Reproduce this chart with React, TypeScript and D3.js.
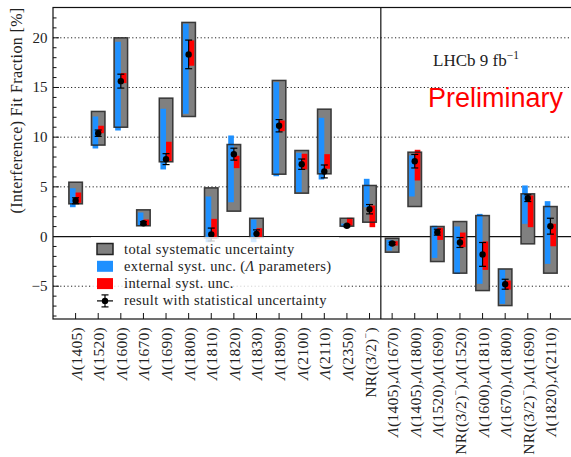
import React from 'react';
import * as d3 from 'd3';

const labels = [
  'Λ(1405)', 'Λ(1520)', 'Λ(1600)', 'Λ(1670)', 'Λ(1690)', 'Λ(1800)', 'Λ(1810)',
  'Λ(1820)', 'Λ(1830)', 'Λ(1890)', 'Λ(2100)', 'Λ(2110)', 'Λ(2350)', 'NR((3/2)⁻)',
  'Λ(1405),Λ(1670)', 'Λ(1405),Λ(1800)', 'Λ(1520),Λ(1690)', 'NR((3/2)⁻),Λ(1520)',
  'Λ(1600),Λ(1810)', 'Λ(1670),Λ(1800)', 'NR((3/2)⁻),Λ(1690)', 'Λ(1820),Λ(2110)',
];
const central = [3.6, 10.4, 15.64, 1.34, 7.79, 18.33, 0.2, 8.29, 0.27, 11.15, 7.28, 6.55, 1.08, 2.75,
  -0.7, 7.58, 0.44, -0.6, -1.8, -4.8, 3.86, 1.04];
const statErr = [0.3, 0.32, 0.7, 0.15, 0.55, 1.44, 0.65, 0.6, 0.4, 0.62, 0.52, 0.65, 0.1, 0.47,
  0.12, 0.68, 0.3, 0.5, 1.2, 0.5, 0.34, 0.8];
const totLow = [3.29, 9.2, 11.0, 1.08, 7.52, 12.08, -0.13, 2.55, -0.1, 6.27, 4.36, 6.31, 1.04, 1.44,
  -1.58, 3.02, -2.52, -3.69, -5.44, -6.95, -0.74, -3.69];
const totHigh = [5.47, 12.59, 20.0, 2.69, 13.93, 21.55, 4.9, 9.26, 1.84, 15.71, 8.66, 12.82, 1.84, 5.14,
  -0.17, 8.49, 1.01, 1.51, 2.11, -3.26, 4.3, 3.02];
const extLow = [2.95, 8.86, 10.67, 1.08, 6.75, 12.35, -0.57, 3.45, -0.57, 6.07, 4.46, 5.74, 0.95, 2.95,
  -1.41, 4.03, -2.15, -3.76, -4.76, -6.78, 1.28, -2.75];
const extHigh = [4.86, 12.08, 19.6, 2.42, 12.86, 21.42, 4.03, 10.17, 1.71, 15.54, 8.43, 11.95, 1.3, 5.81,
  -0.34, 8.16, 1.08, 1.01, 2.28, -3.32, 5.14, 3.56];
const intLow = [3.39, 10.4, 15.44, 1.08, 7.58, 17.19, -0.23, 6.88, -0.13, 10.6, 6.75, 6.82, 1.08, 0.94,
  -0.91, 5.64, -0.34, -1.07, -3.36, -5.34, 0.94, -0.98];
const intHigh = [4.43, 11.15, 16.45, 1.71, 9.54, 19.74, 1.78, 8.13, 0.84, 11.68, 8.33, 8.29, 1.88, 3.12,
  -0.47, 8.73, 0.88, 0.4, -0.5, -4.43, 4.13, 1.28];

const yMajor = [-5, 0, 5, 10, 15, 20];
const yMinor = d3.range(-8, 23);
const gridVals = [-5, 5, 10, 15, 20];
const legendItems = [
  'total systematic uncertainty',
  'external syst. unc. (Λ parameters)',
  'internal syst. unc.',
  'result with statistical uncertainty',
];
const nSingle = 14;

const SERIF = '"Liberation Serif", "DejaVu Serif", serif';

function richText(s: string, supSize: number) {
  const out: React.ReactNode[] = [];
  let buf = '';
  let k = 0;
  let shifted = false;
  const flush = () => {
    if (buf) {
      out.push(<tspan key={k++} dy={shifted ? 5 : undefined}>{buf}</tspan>);
      shifted = false;
      buf = '';
    }
  };
  for (const ch of s) {
    if (ch === 'Λ') {
      flush();
      out.push(<tspan key={k++} fontStyle="italic" dy={shifted ? 5 : undefined}>Λ</tspan>);
      shifted = false;
    } else if (ch === '⁻') {
      flush();
      out.push(<tspan key={k++} dy={-5} fontSize={supSize}>−</tspan>);
      shifted = true;
    } else {
      buf += ch;
    }
  }
  flush();
  return out;
}

export default function App() {
  const W = 571, H = 457;
  const left = 53, right = 573, top = 7.5, bottom = 319;
  const x = d3.scaleLinear().domain([0, labels.length + 1]).range([left, right]);
  const y = d3.scaleLinear().domain([-8.3, 23.05]).range([bottom, top]);
  const u = x(1) - x(0);
  const boxHalf = 0.3 * u;
  const barW = 0.25 * u;

  return (
    <svg width={W} height={H} style={{ position: 'absolute', left: 0, top: 0, background: '#fff' }}>
      {gridVals.map(v => (
        <line key={'g' + v} x1={left} x2={right} y1={y(v)} y2={y(v)} stroke="#222" strokeWidth={1} strokeDasharray="1.2,2.4" />
      ))}
      <line x1={left} x2={right} y1={y(0)} y2={y(0)} stroke="#111" strokeWidth={1.2} />
      <line x1={x(nSingle + 0.5)} x2={x(nSingle + 0.5)} y1={top} y2={bottom} stroke="#111" strokeWidth={1.2} />

      {labels.map((_, i) => {
        const cx = x(i + 1);
        return (
          <g key={'b' + i}>
            <rect x={cx - boxHalf} width={2 * boxHalf} y={y(totHigh[i])} height={y(totLow[i]) - y(totHigh[i])} fill="#808080" />
            <rect x={cx - barW} width={barW} y={y(extHigh[i])} height={y(extLow[i]) - y(extHigh[i])} fill="#1e90ff" />
            <rect x={cx} width={barW} y={y(intHigh[i])} height={y(intLow[i]) - y(intHigh[i])} fill="#ff0000" />
            <rect x={cx - boxHalf} width={2 * boxHalf} y={y(totHigh[i])} height={y(totLow[i]) - y(totHigh[i])} fill="none" stroke="#222" strokeOpacity={0.85} strokeWidth={1.5} />
            <line x1={cx} x2={cx} y1={y(central[i] + statErr[i])} y2={y(central[i] - statErr[i])} stroke="#000" strokeWidth={1.2} />
            <line x1={cx - 3.5} x2={cx + 3.5} y1={y(central[i] + statErr[i])} y2={y(central[i] + statErr[i])} stroke="#000" strokeWidth={1.2} />
            <line x1={cx - 3.5} x2={cx + 3.5} y1={y(central[i] - statErr[i])} y2={y(central[i] - statErr[i])} stroke="#000" strokeWidth={1.2} />
            <circle cx={cx} cy={y(central[i])} r={3.2} fill="#000" />
          </g>
        );
      })}

      <rect x={91} y={237} width={248} height={74} fill="#fff" fillOpacity={0.8} />
      <g fontFamily={SERIF} fontSize={14.5} fill="#222" letterSpacing={0.4}>
        {legendItems.map((t, i) => {
          const cy = 249 + i * 17.3;
          return (
            <g key={'l' + i}>
              {i === 0 && <rect x={97} y={cy - 5.5} width={16} height={11} fill="#808080" stroke="#222" strokeWidth={1.5} />}
              {i === 1 && <rect x={97} y={cy - 5.5} width={16} height={11} fill="#1e90ff" />}
              {i === 2 && <rect x={97} y={cy - 5.5} width={16} height={11} fill="#ff0000" />}
              {i === 3 && (
                <g stroke="#000" strokeWidth={1.2}>
                  <line x1={97} x2={113} y1={cy} y2={cy} />
                  <line x1={105} x2={105} y1={cy - 6} y2={cy + 6} />
                  <line x1={101.5} x2={108.5} y1={cy - 6} y2={cy - 6} />
                  <line x1={101.5} x2={108.5} y1={cy + 6} y2={cy + 6} />
                  <circle cx={105} cy={cy} r={3.2} fill="#000" stroke="none" />
                </g>
              )}
              <text x={124} y={cy + 4.5}>{richText(t, 10)}</text>
            </g>
          );
        })}
      </g>

      <rect x={left} y={top} width={right - left} height={bottom - top} fill="none" stroke="#111" strokeWidth={1.2} />

      {yMinor.map(v => (
        <line key={'ym' + v} x1={left} x2={left + (yMajor.includes(v) ? 6 : 3.5)} y1={y(v)} y2={y(v)} stroke="#111" strokeWidth={1} />
      ))}
      <g fontFamily={SERIF} fontSize={15} fill="#222" textAnchor="end">
        {yMajor.map(v => (
          <text key={'yl' + v} x={47.5} y={y(v) + 5}>{v < 0 ? '−' + Math.abs(v) : String(v)}</text>
        ))}
      </g>

      {labels.map((l, i) => (
        <g key={'x' + i}>
          <line x1={x(i + 1)} x2={x(i + 1)} y1={bottom} y2={bottom - 6} stroke="#111" strokeWidth={1} />
          <text transform={`translate(${x(i + 1)},${bottom + 8}) rotate(-90)`} textAnchor="end" dominantBaseline="central"
            fontFamily={SERIF} fontSize={15.5} letterSpacing={0.3} fill="#222">{richText(l, 10)}</text>
        </g>
      ))}

      <text transform={`translate(16,${top}) rotate(-90)`} textAnchor="end" dominantBaseline="central"
        fontFamily={SERIF} fontSize={16} letterSpacing={0.35} fill="#222">(Interference) Fit Fraction [%]</text>

      <text x={433} y={66} fontFamily={SERIF} fontSize={17} fill="#222">
        LHCb 9 fb<tspan dy={-7} fontSize={11.5}>−1</tspan>
      </text>
      <text x={428} y={106.5} fontFamily='"Liberation Sans", Arial, sans-serif' fontSize={27} fill="#ff0000">Preliminary</text>
    </svg>
  );
}
